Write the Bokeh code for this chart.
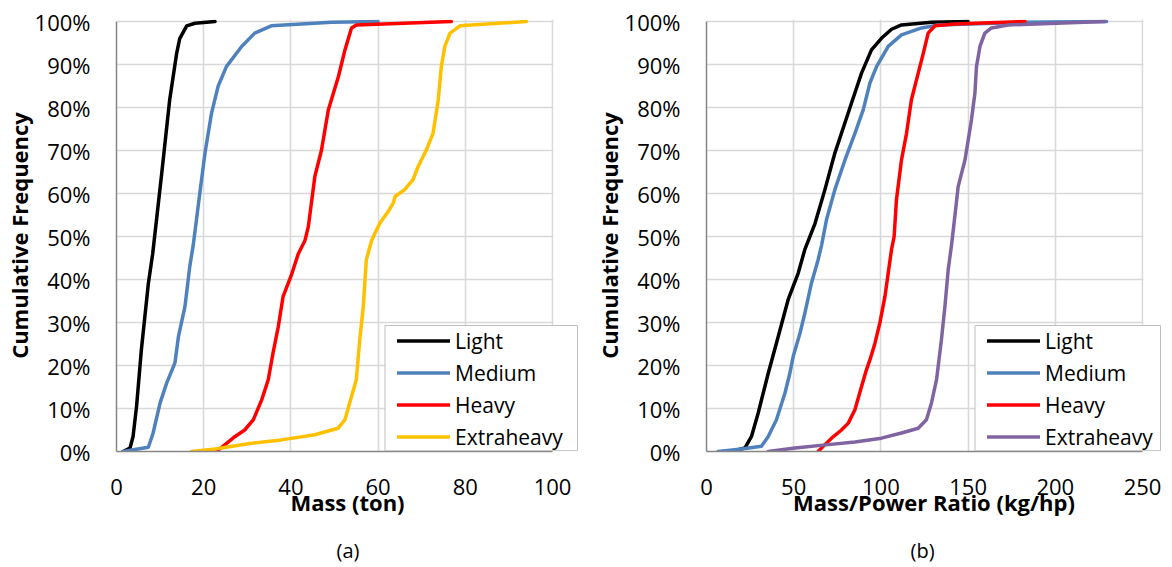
from bokeh.plotting import figure
from bokeh.models import (Range1d, FixedTicker, PrintfTickFormatter, Legend, LegendItem,
                          Title, BoxAnnotation)
from bokeh.layouts import row
from bokeh.embed import file_html
from bokeh.resources import INLINE

series_names = ["Light", "Medium", "Heavy", "Extraheavy"]

# (a) Mass (ton)
mass_light_x = [1.5, 3.1, 3.8, 4.6, 5.7, 7.3, 8.3, 10.3, 12.2, 13.8, 14.5, 16.1, 18.0, 22.6]
mass_light_y = [0, 0.8, 3.5, 10.5, 23.6, 39, 46, 64, 81.8, 92.6, 96, 99, 99.6, 100]
mass_medium_x = [1.5, 7.3, 8.4, 10.0, 11.5, 13.4, 14.2, 15.7, 16.8, 17.6, 19.1, 20.3, 21.8, 23.3, 25.2, 28.7, 31.7, 35.5, 49.3, 60.0]
mass_medium_y = [0, 1, 4.3, 11.3, 15.9, 20.6, 26.7, 33.7, 43, 48, 60, 69.4, 78.7, 84.9, 89.5, 94.2, 97.3, 99, 99.8, 100]
mass_heavy_x = [22.9, 24.9, 27.2, 29.4, 31.4, 33.3, 34.8, 35.9, 37.1, 38.2, 40.1, 41.7, 43.2, 44.0, 45.5, 47.0, 48.6, 50.9, 52.4, 53.9, 55.0, 76.8]
mass_heavy_y = [0, 1.6, 3.5, 5, 7.4, 12, 16.7, 22.9, 29, 36, 41, 46, 49, 52.3, 64, 70, 79.5, 87.2, 93.4, 98.5, 99.2, 100]
mass_xheavy_x = [17.2, 22.6, 30.2, 37.8, 45.5, 50.8, 52.4, 53.9, 55.0, 55.8, 56.6, 57.3, 58.5, 59.3, 60.4, 62.3, 63.5, 63.9, 66.1, 68.0, 69.2, 71.1, 72.6, 73.8, 74.5, 75.3, 76.5, 78.8, 94.0]
mass_xheavy_y = [0, 0.6, 1.8, 2.7, 3.9, 5.4, 7.4, 12.8, 16.7, 26, 33.7, 44.6, 49, 50.8, 53.1, 55.8, 57.8, 59.3, 60.9, 63.2, 66.3, 70.2, 74, 81.8, 89.5, 94.2, 97.3, 99, 100]

# (b) Mass/Power Ratio (kg/hp)
mpr_light_x = [14.3, 22.0, 25.8, 29.6, 35.4, 41.1, 46.8, 52.6, 56.4, 62.2, 67.9, 73.6, 83.1, 88.9, 94.6, 100.3, 106.1, 111.8, 129.0, 150.0]
mpr_light_y = [0, 0.8, 3.5, 8.9, 18.2, 26.7, 35.3, 41.5, 47, 53, 60.9, 69.4, 81, 88, 93.4, 96.1, 98.2, 99.2, 99.8, 100]
mpr_medium_x = [6.7, 20.1, 31.5, 35.4, 40.1, 45.0, 47.8, 49.7, 53.6, 56.4, 60.2, 64.0, 66.0, 68.8, 73.6, 79.4, 85.1, 89.9, 93.7, 97.5, 104.2, 111.8, 123.3, 132.9, 180.6, 229.4]
mpr_medium_y = [0, 0.6, 1.2, 3.5, 7.4, 13.6, 18.2, 22.1, 27.5, 32.2, 39.2, 44.6, 48, 53.9, 60.9, 67.8, 74, 79.5, 85.7, 89.5, 94.2, 96.9, 98.5, 99.2, 99.8, 100]
mpr_heavy_x = [64.0, 67.9, 71.7, 77.4, 81.3, 85.1, 88.9, 91.7, 93.7, 96.6, 99.4, 102.3, 104.2, 106.1, 107.6, 108.9, 111.8, 114.7, 117.5, 121.4, 124.3, 127.1, 131.0, 142.4, 182.6]
mpr_heavy_y = [0, 1.6, 3.1, 5, 6.6, 9.7, 15.1, 19, 21.3, 25.2, 29.9, 36, 41.5, 47, 50, 58.5, 67.8, 74, 81.8, 88, 92.6, 97.3, 99, 99.4, 100]
mpr_xheavy_x = [35.4, 50.7, 69.8, 85.1, 100.3, 111.8, 121.4, 126.1, 129.0, 131.9, 134.7, 136.7, 138.6, 140.5, 142.4, 144.3, 148.2, 150.1, 151.9, 153.9, 154.8, 156.8, 159.6, 163.4, 173.0, 228.4]
mpr_xheavy_y = [0, 0.8, 1.6, 2.2, 3.1, 4.3, 5.4, 7.4, 11.3, 16.7, 26, 33.7, 42.3, 48, 54.7, 61.6, 67.8, 72.5, 77.1, 83.3, 89.5, 94.2, 97.3, 98.5, 99.2, 100]

y_ticks = [0, 10, 20, 30, 40, 50, 60, 70, 80, 90, 100]
mass_ticks = [0, 20, 40, 60, 80, 100]
mpr_ticks = [0, 50, 100, 150, 200, 250]

colors_a = ["#000000", "#4f81bd", "#ff0000", "#ffc000"]
colors_b = ["#000000", "#4f81bd", "#ff0000", "#8064a2"]

FONT = "Open Sans"
PLOT_W = 436          # pixel width of the 0..xmax plot area
PLOT_H = 430          # pixel height of the 0..100 % plot area
Y_TOP_PAD_PX = 2      # room so the 100 % lines are not clipped
LEG_BOX_LEFT_PX = 268.5
LEG_BOX_H_PX = 126


def make_panel(series, colors, xmax, xticks, xlabel, caption, border_left, border_right,
               extra_w, cap_offset):
    fw = PLOT_W + extra_w
    fh = PLOT_H + Y_TOP_PAD_PX
    ppx = PLOT_W / xmax
    ppy = PLOT_H / 100.0
    p = figure(output_backend="svg", toolbar_location=None,
               frame_width=fw, frame_height=fh,
               min_border_left=border_left, min_border_right=border_right,
               min_border_top=19, min_border_bottom=100,
               x_range=Range1d(0, fw / ppx), y_range=Range1d(0, fh / ppy))
    p.outline_line_color = None
    p.background_fill_color = "white"
    p.border_fill_color = "white"

    for ax in (p.xaxis[0], p.yaxis[0]):
        ax.major_tick_line_color = None
        ax.minor_tick_line_color = None
        ax.major_tick_out = 0
        ax.major_tick_in = 0
        ax.minor_tick_out = 0
        ax.minor_tick_in = 0
        ax.axis_line_color = "#868686"
        ax.axis_line_width = 1.5
        ax.major_label_text_font = FONT
        ax.major_label_text_font_size = "22px"
        ax.major_label_text_color = "#000000"
        ax.axis_label_text_font = FONT
        ax.axis_label_text_font_size = "22px"
        ax.axis_label_text_font_style = "bold"
        ax.axis_label_text_color = "#000000"

    p.xaxis.bounds = (0, xmax)
    p.yaxis.bounds = (0, 100)
    p.xaxis.ticker = FixedTicker(ticks=xticks)
    p.yaxis.ticker = FixedTicker(ticks=y_ticks)
    p.yaxis.formatter = PrintfTickFormatter(format="%d%%")
    p.xaxis.axis_label = xlabel
    p.yaxis.axis_label = "Cumulative Frequency"
    p.xaxis.major_label_standoff = 27
    p.xaxis.axis_label_standoff = -11
    p.yaxis.major_label_standoff = 26
    p.yaxis.axis_label_standoff = -2

    p.xgrid.ticker = FixedTicker(ticks=xticks)
    p.ygrid.ticker = FixedTicker(ticks=y_ticks)
    p.grid.grid_line_color = "#d9d9d9"
    p.grid.grid_line_width = 1.6

    items = []
    for (name, xs, ys), c in zip(series, colors):
        r = p.line(xs, ys, line_color=c, line_width=3.5, line_join="round", line_cap="round")
        items.append(LegendItem(label=name, renderers=[r]))

    # white mask right of the last gridline (legend sticks out of the plot area)
    p.add_layout(BoxAnnotation(left=xmax + 1.0 / ppx, fill_color="white", fill_alpha=1.0,
                               line_color=None))
    # legend frame
    p.add_layout(BoxAnnotation(left=LEG_BOX_LEFT_PX / ppx, right=(fw - 1) / ppx,
                               bottom=0.8 / ppy, top=LEG_BOX_H_PX / ppy,
                               fill_color="white", fill_alpha=1.0,
                               line_color="#bfbfbf", line_width=1, line_alpha=1.0))

    leg = Legend(items=items, location=(LEG_BOX_LEFT_PX + 12.5, 0), orientation="vertical")
    leg.label_text_font = FONT
    leg.label_text_font_size = "21px"
    leg.label_text_color = "#000000"
    leg.glyph_width = 53
    leg.glyph_height = 29
    leg.label_height = 29
    leg.label_standoff = 5
    leg.spacing = 3
    leg.padding = 1
    leg.margin = 0
    leg.border_line_color = None
    leg.background_fill_alpha = 0.0
    p.add_layout(leg, "center")

    t = Title(text=caption, align="left", text_font=FONT, text_font_size="20px",
              text_font_style="normal", text_color="#000000", offset=cap_offset, standoff=31)
    p.add_layout(t, "below")
    return p


p1 = make_panel([(series_names[0], mass_light_x, mass_light_y),
                 (series_names[1], mass_medium_x, mass_medium_y),
                 (series_names[2], mass_heavy_x, mass_heavy_y),
                 (series_names[3], mass_xheavy_x, mass_xheavy_y)],
                colors_a, 100, mass_ticks, "Mass (ton)", "(a)", 110, 6, 26, 220)
p2 = make_panel([(series_names[0], mpr_light_x, mpr_light_y),
                 (series_names[1], mpr_medium_x, mpr_medium_y),
                 (series_names[2], mpr_heavy_x, mpr_heavy_y),
                 (series_names[3], mpr_xheavy_x, mpr_xheavy_y)],
                colors_b, 250, mpr_ticks, "Mass/Power Ratio (kg/hp)", "(b)", 122, 0, 19, 204)

layout = row(p1, p2)
open("out.html", "w").write(file_html(layout, INLINE))
